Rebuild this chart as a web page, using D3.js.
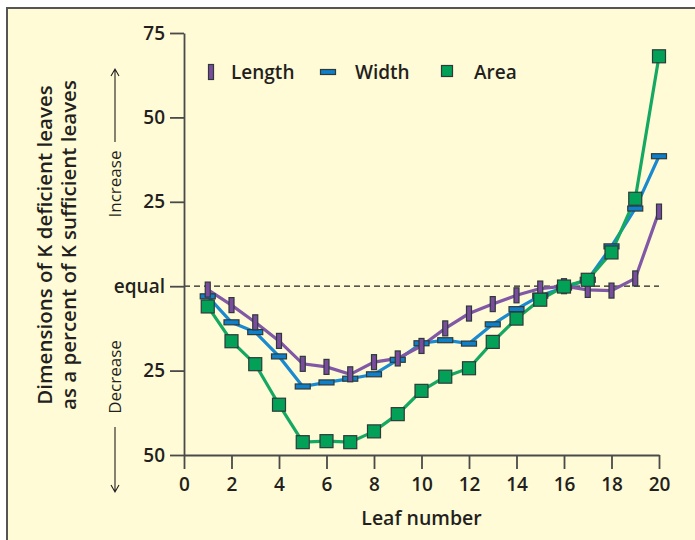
<!DOCTYPE html>
<html>
<head>
<meta charset="utf-8">
<script src="https://cdn.jsdelivr.net/npm/d3@7"></script>
<style>
  body { margin: 0; background: #fff; }
  svg text { font-family: "Open Sans", sans-serif; fill: #231f20; }
</style>
</head>
<body>
<div id="chart"></div>
<script>
// data (% difference vs K sufficient leaves)
const leaf = d3.range(1, 21)
const lengthVals = [-1, -5.6, -10.7, -16.2, -23, -23.9, -26.1, -22.5, -21.4, -17.7, -12.5, -8.1, -5.3, -2.7, -0.7, 0, -1.1, -1.3, 2.3, 22.1]
const widthVals = [-3, -10.7, -13.6, -20.8, -29.7, -28.5, -27.4, -26.1, -21.8, -16.9, -16, -17, -11.3, -6.8, -2.8, -0.4, 1.9, 11.8, 23, 38.5]
const areaVals = [-6, -16.3, -23.1, -35.1, -46.2, -45.9, -46.2, -43, -37.9, -31, -26.8, -24.3, -16.5, -9.6, -4, -0.1, 1.9, 10, 25.9, 68.1]
const yTicks = [75, 50, 25, 0, -25, -50]
const yTickLabels = ['75', '50', '25', 'equal', '25', '50']
const xTicks = d3.range(0, 21, 2)

const width = 695
const height = 540
const margin = {left: 184, top: 33, right: 36, bottom: 85}

const svg = d3.select('#chart')
.append('svg')
.attr('width', width)
.attr('height', height)

// panel
svg.append('rect')
.attr('x', 7).attr('y', 8)
.attr('width', width).attr('height', height)
.attr('fill', '#fffbd6')
.attr('stroke', '#555')
.attr('stroke-width', 2)

const xScale = d3.scaleLinear()
.domain([0, 20])
.range([margin.left, width - margin.right])

const yScale = d3.scaleLinear()
.domain([-50, 75])
.range([height - margin.bottom, margin.top])

// equal line
svg.append('line')
.attr('x1', xScale(0)).attr('x2', xScale(20))
.attr('y1', yScale(0)).attr('y2', yScale(0))
.attr('stroke', '#222')
.attr('stroke-width', 1.2)
.attr('stroke-dasharray', '6,4')

const yAxis = svg.append('g')
.attr('class', 'yaxis')
.attr('transform', `translate(${xScale(0)},0)`)
.call(
	d3.axisLeft(yScale)
	.tickValues(yTicks)
	.tickSize(14)
	.tickSizeOuter(0)
	.tickPadding(5)
	.tickFormat((d, i) => yTickLabels[i])
)

const xAxis = svg.append('g')
.attr('class', 'xaxis')
.attr('transform', `translate(0,${yScale(-50)})`)
.call(
	d3.axisBottom(xScale)
	.tickValues(xTicks)
	.tickSize(14)
	.tickSizeOuter(0)
	.tickPadding(9)
)

svg.selectAll('.xaxis path, .xaxis line, .yaxis path, .yaxis line')
.attr('stroke', '#4a4a4a')
.attr('stroke-width', 1.8)

svg.selectAll('.xaxis text, .yaxis text')
.attr('font-size', 19)
.attr('font-weight', 600)
.attr('fill', '#231f20')

svg.append('text')
.attr('x', (xScale(0) + xScale(20)) / 2)
.attr('y', 525)
.attr('text-anchor', 'middle')
.attr('font-size', 19.5)
.attr('font-weight', 600)
.text('Leaf number')

// y title
const yTitle = svg.append('text')
.attr('transform', 'translate(52,245) rotate(-90)')
.attr('text-anchor', 'middle')
.attr('font-size', 20.5)
.attr('font-weight', 600)
yTitle.append('tspan').attr('x', 0).attr('dy', 0).text('Dimensions of K deficient leaves')
yTitle.append('tspan').attr('x', 0).attr('dy', 24).text('as a percent of K sufficient leaves')

// increase / decrease
const arrowX = 115
svg.append('text')
.attr('transform', `translate(${arrowX + 6},184) rotate(-90)`)
.attr('text-anchor', 'middle')
.attr('font-size', 17)
.text('Increase')

svg.append('text')
.attr('transform', `translate(${arrowX + 6},377) rotate(-90)`)
.attr('text-anchor', 'middle')
.attr('font-size', 17)
.text('Decrease')

svg.append('path')
.attr('d', `M${arrowX},142V69M${arrowX - 4},76L${arrowX},69L${arrowX + 4},76`)
.attr('fill', 'none')
.attr('stroke', '#231f20')
.attr('stroke-width', 1.1)

svg.append('path')
.attr('d', `M${arrowX},427V492M${arrowX - 4},485L${arrowX},492L${arrowX + 4},485`)
.attr('fill', 'none')
.attr('stroke', '#231f20')
.attr('stroke-width', 1.1)

const series = [
	{name: 'Width', values: widthVals, line: '#1a8ad0', fill: '#0f7fc7', w: 15, h: 5, lx: 328, tx: 355},
	{name: 'Length', values: lengthVals, line: '#8058a6', fill: '#7a4c9e', w: 5, h: 15, lx: 211, tx: 231},
	{name: 'Area', values: areaVals, line: '#15a862', fill: '#02a157', w: 13, h: 13, lx: 447, tx: 474}
]

const line = d3.line()
.x((d, i) => xScale(leaf[i]))
.y(d => yScale(d))

svg.selectAll('.series-line')
.data(series)
.enter()
.append('path')
.attr('class', 'series-line')
.attr('d', d => line(d.values))
.attr('fill', 'none')
.attr('stroke', d => d.line)
.attr('stroke-width', 3.2)

series.forEach(s => {
	svg.selectAll(null)
	.data(s.values)
	.enter()
	.append('rect')
	.attr('x', (d, i) => xScale(leaf[i]) - s.w / 2)
	.attr('y', d => yScale(d) - s.h / 2)
	.attr('width', s.w)
	.attr('height', s.h)
	.attr('fill', s.fill)
	.attr('stroke', '#2e3a3a')
	.attr('stroke-width', 1.2)
})

// legend
const legY = 72
series.forEach(s => {
	svg.append('rect')
	.attr('x', s.lx - s.w / 2 + (s.name == 'Area' ? 1 : 0))
	.attr('y', legY - s.h / 2)
	.attr('width', s.name == 'Area' ? 11 : s.w)
	.attr('height', s.name == 'Area' ? 11 : s.h)
	.attr('fill', s.fill)
	.attr('stroke', '#2e3a3a')
	.attr('stroke-width', 1.2)

	svg.append('text')
	.attr('x', s.tx)
	.attr('y', legY + 7)
	.attr('font-size', 19)
	.attr('font-weight', 600)
	.text(s.name)
})
</script>
</body>
</html>
